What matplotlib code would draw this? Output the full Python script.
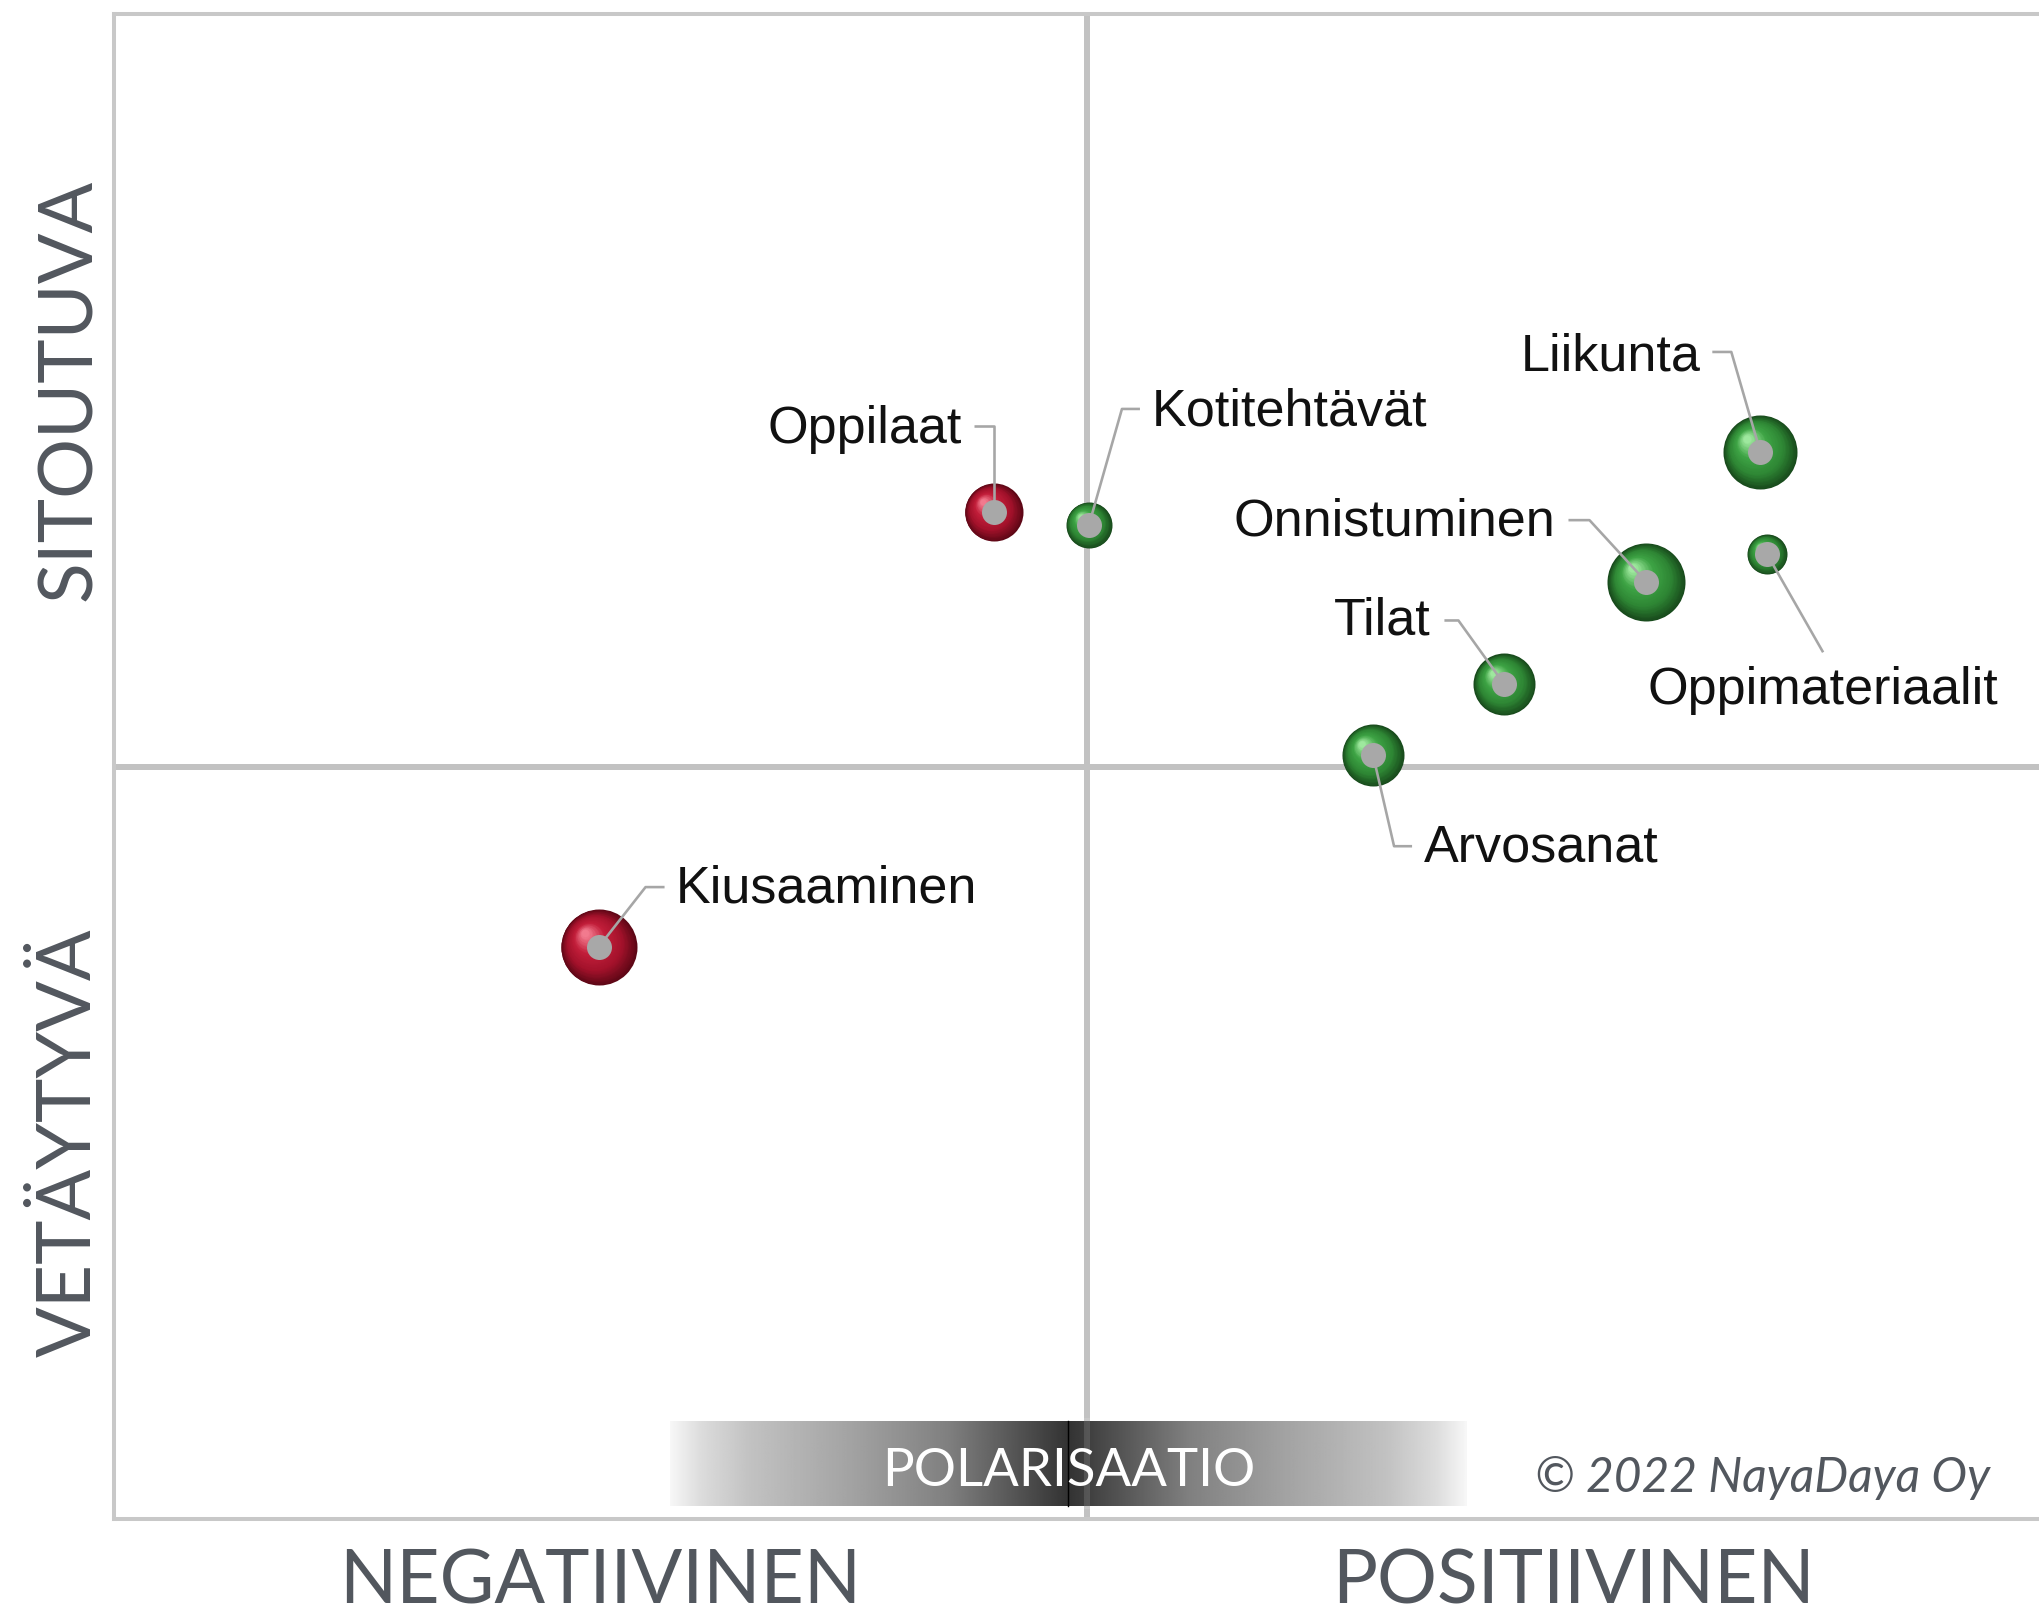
import numpy as np
import matplotlib
matplotlib.use("Agg")
import matplotlib.pyplot as plt
import matplotlib.transforms as mtransforms
from matplotlib.colors import to_rgb

# ---------------- data ----------------
labels = ["Oppilaat", "Kotitehtävät", "Liikunta", "Onnistuminen",
          "Oppimateriaalit", "Tilat", "Arvosanat", "Kiusaaminen"]
x_vals = [-0.096, 0.002, 0.692, 0.575, 0.699, 0.429, 0.294, -0.502]
y_vals = [0.338, 0.321, 0.418, 0.245, 0.282, 0.109, 0.015, -0.240]
bubble_size = [29, 23, 37, 39, 20, 31, 31, 38]
tone = ["neg", "pos", "pos", "pos", "pos", "pos", "pos", "neg"]

x_categories = ["NEGATIIVINEN", "POSITIIVINEN"]
y_categories = ["VETÄYTYVÄ", "SITOUTUVA"]
bar_title = "POLARISAATIO"
credit = "© 2022 NayaDaya Oy"

# ---------------- layout / style ----------------
DPI = 100
W, H = 2039, 1616
AX_LEFT, AX_RIGHT, AX_TOP, AX_BOTTOM = 114, 2060, 14, 1519  # pixels

# leader path (pixel offsets from bubble centre, y downward) and text anchor
LEADERS = {
    "Oppilaat":        ([(0, -86), (-20, -86)], (-32, -83), "right", "center"),
    "Kotitehtävät":    ([(33, -116), (51, -116)], (63, -113), "left", "center"),
    "Liikunta":        ([(-29, -100), (-48, -100)], (-60, -95), "right", "center"),
    "Onnistuminen":    ([(-57, -62), (-78, -62)], (-91, -60), "right", "center"),
    "Oppimateriaalit": ([(56, 98)], (56, 136), "center", "center"),
    "Tilat":           ([(-46, -64), (-60, -64)], (-74, -63), "right", "center"),
    "Arvosanat":       ([(21, 91), (39, 91)], (51, 93), "left", "center"),
    "Kiusaaminen":     ([(47, -60), (66, -60)], (77, -58), "left", "center"),
}

PALETTES = {
    "neg": ["#5e0716", "#a3122b", "#c21e3a", "#f27a8e"],
    "pos": ["#184a1c", "#2e8634", "#3ea445", "#9ee89e"],
}
GREY_DOT = "#a8a8a8"
LINE_GREY = "#c2c2c2"
TEXT_GREY = "#52575e"

fig = plt.figure(figsize=(W / DPI, H / DPI), dpi=DPI)
fig.patch.set_facecolor("white")
ax = fig.add_axes([AX_LEFT / W, (H - AX_BOTTOM) / H,
                   (AX_RIGHT - AX_LEFT) / W, (AX_BOTTOM - AX_TOP) / H])
ax.set_xlim(-1, 1)
ax.set_ylim(-1, 1)
ax.set_xticks([])
ax.set_yticks([])
for sp in ax.spines.values():
    sp.set_color("#c8c8c8")
    sp.set_linewidth(2.9)

px2pt = 72.0 / DPI

# quadrant lines
ax.axhline(0, color=LINE_GREY, lw=6 * px2pt, zorder=1)
ax.axvline(0, color=LINE_GREY, lw=6 * px2pt, zorder=1)

# polarisation gradient bar (axes coords)
bx0 = (670 - AX_LEFT) / (AX_RIGHT - AX_LEFT)
bx1 = (1467 - AX_LEFT) / (AX_RIGHT - AX_LEFT)
by0 = (AX_BOTTOM - 1506) / (AX_BOTTOM - AX_TOP)
by1 = (AX_BOTTOM - 1421) / (AX_BOTTOM - AX_TOP)
u = np.linspace(-1, 1, 800)
d = np.abs(u)
g = np.interp(d, [0, 0.12, 0.3, 0.55, 0.8, 0.92, 1.0],
              [0.20, 0.32, 0.50, 0.64, 0.76, 0.86, 0.97])
img = np.tile(g, (2, 1))
ax.imshow(img, extent=[bx0, bx1, by0, by1], transform=ax.transAxes,
          cmap="gray", vmin=0, vmax=1, aspect="auto", zorder=2,
          interpolation="bilinear")
xc = (bx0 + bx1) / 2
ax.plot([xc, xc], [by0, by1], transform=ax.transAxes, color="black",
        lw=1.4 * px2pt, zorder=3)
vx = 0.5
ax.plot([vx, vx], [by0, by1], transform=ax.transAxes, color="white",
        alpha=0.12, lw=6 * px2pt, zorder=3)
ax.text(xc, (AX_BOTTOM - 1471) / (AX_BOTTOM - AX_TOP), bar_title,
        transform=ax.transAxes, ha="center", va="center", color="white",
        fontsize=38, family="Lato", zorder=4)
ax.set_xlim(-1, 1)
ax.set_ylim(-1, 1)

# credit
ax.text((1990 - AX_LEFT) / (AX_RIGHT - AX_LEFT),
        (AX_BOTTOM - 1492) / (AX_BOTTOM - AX_TOP), credit,
        transform=ax.transAxes, ha="right", va="baseline", color=TEXT_GREY,
        fontsize=34.5, family="Lato", style="italic", zorder=4)


def ramp(pal, f):
    stops = [0.0, 0.3, 0.65, 1.0]
    cols = np.array([to_rgb(c) for c in pal])
    return tuple(np.interp(f, stops, cols[:, i]) for i in range(3))


def draw_bubble(x, y, r, pal):
    n = 40
    for k in range(n):
        f = k / (n - 1)
        rad = r * (1 - 0.9 * f)
        off = 0.36 * r * f
        tr = mtransforms.offset_copy(ax.transData, fig=fig, x=-off, y=off,
                                     units="dots")
        ax.plot([x], [y], "o", ms=2 * rad * px2pt, mew=0,
                color=ramp(pal, f), transform=tr, zorder=5)


fig.canvas.draw()
inv = ax.transData.inverted()

for name, x, y, r, t in zip(labels, x_vals, y_vals, bubble_size, tone):
    draw_bubble(x, y, r, PALETTES[t])
    cx, cy = ax.transData.transform((x, y))
    path, txt, ha, va = LEADERS[name]
    pts = [(cx, cy)] + [(cx + dx, cy - dy) for dx, dy in path]
    dpts = inv.transform(pts)
    ax.plot(dpts[:, 0], dpts[:, 1], color="#a6a6a6", lw=2.6 * px2pt,
            zorder=6, solid_capstyle="butt", clip_on=False)
    ax.plot([x], [y], "o", ms=2 * 12.5 * px2pt, mew=0, color=GREY_DOT,
            zorder=7)
    tx, ty = inv.transform((cx + txt[0], cy - txt[1]))
    ax.text(tx, ty, name, ha=ha, va=va, fontsize=37.5,
            family="Liberation Sans", color="#111111", zorder=8)

# axis category labels
for lab, xf in zip(x_categories, [0.25, 0.75]):
    xd = AX_LEFT + xf * (AX_RIGHT - AX_LEFT)
    fig.text(xd / W, 12 / H, lab, ha="center", va="baseline", fontsize=54,
             family="Lato", color=TEXT_GREY)
for lab, yf in zip(y_categories, [0.25, 0.75]):
    yd = AX_BOTTOM - yf * (AX_BOTTOM - AX_TOP)
    fig.text(91 / W, (H - yd) / H, lab, ha="center", va="baseline",
             rotation=90, rotation_mode="anchor", fontsize=54,
             family="Lato", color=TEXT_GREY)

ax.set_xlim(-1, 1)
ax.set_ylim(-1, 1)
fig.savefig("out.png", dpi=DPI, facecolor="white")
